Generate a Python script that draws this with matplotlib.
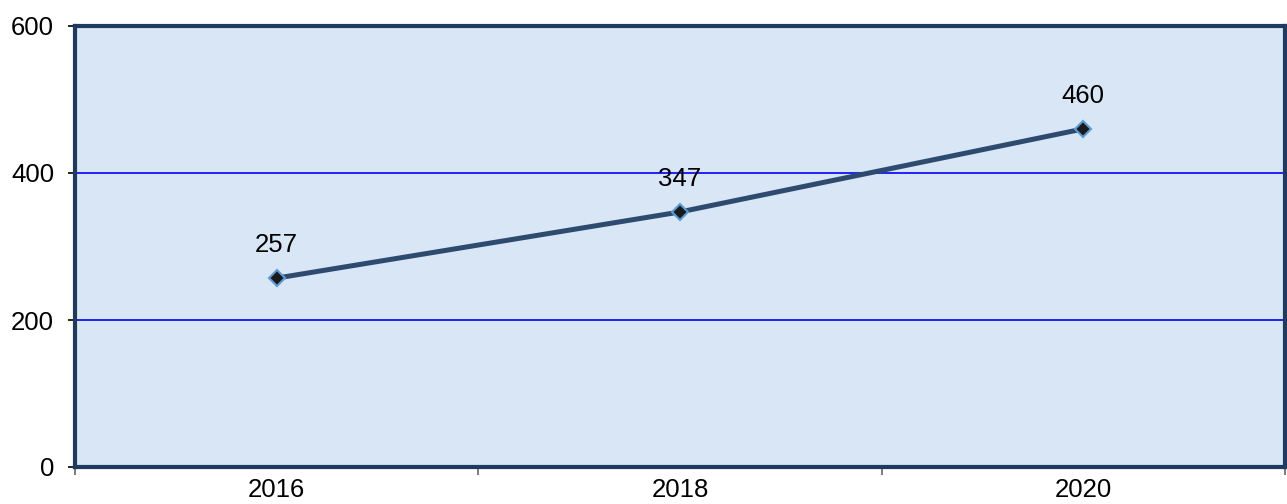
import matplotlib
matplotlib.use("Agg")
import matplotlib.pyplot as plt
from matplotlib.ticker import FixedLocator

categories = ["2016", "2018", "2020"]
values = [257, 347, 460]
yticks = [0, 200, 400, 600]

plt.rcParams['font.family'] = ['Liberation Sans', 'DejaVu Sans']

fig = plt.figure(figsize=(12.87, 5.04), dpi=100)
ax = fig.add_axes([75/1287, 1-467/504, (1285-75)/1287, (467-26)/504])
ax.set_facecolor('#D8E6F5')

x = list(range(len(categories)))
ax.set_xlim(-0.5, len(categories) - 0.5)
ax.set_ylim(0, 600)
ax.set_yticks(yticks)
ax.set_yticklabels([str(t) for t in yticks], fontsize=18.5)
ax.set_xticks(x)
ax.set_xticklabels(categories, fontsize=18.5)
ax.xaxis.set_minor_locator(FixedLocator([i - 0.5 for i in range(len(categories) + 1)]))
ax.tick_params(axis='x', which='major', length=0, pad=8)
ax.tick_params(axis='x', which='minor', length=6, width=1.2, color='#666666', direction='out')
ax.tick_params(axis='y', which='major', length=5, width=1.2, color='black', pad=10)

for y in [200, 400]:
    ax.axhline(y, color='#0000FF', lw=1.2, zorder=1)

for s in ax.spines.values():
    s.set_color('#1F3A5F')
    s.set_linewidth(3)

ax.plot(x, values, color='#2E4A6E', lw=3.6, zorder=3, solid_capstyle='round',
        marker='D', markersize=8.5, markerfacecolor='#1A1A1A',
        markeredgecolor='#5B9BD5', markeredgewidth=1.5)

for xi, v in zip(x, values):
    ax.annotate(str(v), (xi, v), xytext=(0, 24), textcoords='offset points',
                ha='center', va='center', fontsize=18.5, color='black')

fig.savefig("out.png", dpi=100)
